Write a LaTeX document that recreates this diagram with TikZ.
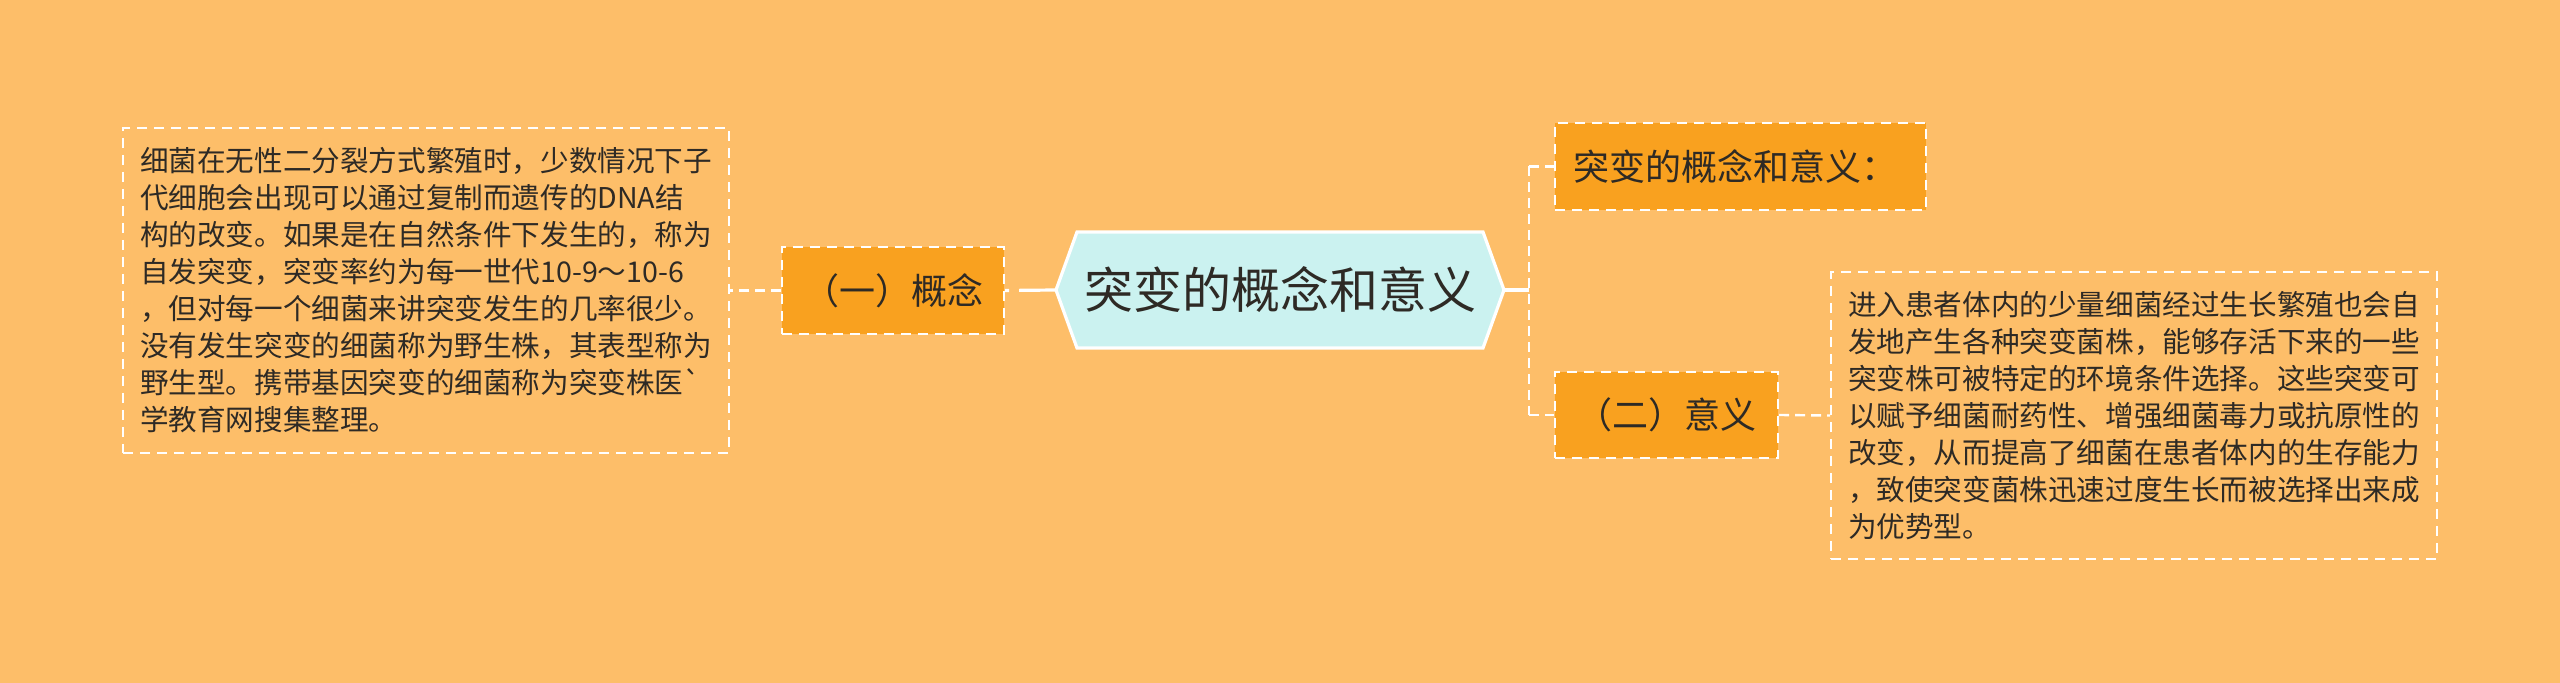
\documentclass[tikz,border=0pt]{standalone}
\usepackage{fontspec}
\newfontfamily\cjk{Noto Sans CJK SC}
\definecolor{bgc}{HTML}{FDBE69}
\definecolor{boxc}{HTML}{F9A11F}
\definecolor{hexc}{HTML}{CBF2F0}
\definecolor{txtc}{HTML}{2E2A25}
\tikzset{
  dashline/.style={draw=white, line width=1.2pt, dash pattern=on 5pt off 3pt},
  textbox/.style={draw=white, line width=1pt, dash pattern=on 5pt off 3.5pt, fill=none,
    font=\cjk\fontsize{14.3pt}{18.5pt}\selectfont, text=txtc, align=left,
    minimum width=303pt, inner sep=0pt, anchor=center},
  topic/.style={draw=white, line width=1pt, dash pattern=on 5pt off 3.5pt, fill=boxc,
    font=\cjk\fontsize{18pt}{22pt}\selectfont, text=txtc, inner sep=0pt, anchor=center}
}
\begin{document}
\begin{tikzpicture}[x=0.5pt,y=-0.5pt]
\path[fill=bgc,use as bounding box] (0,0) rectangle (2560,683);
% root
\node[font=\cjk\fontsize{24.5pt}{28pt}\selectfont, text=txtc, minimum width=224pt, minimum height=58pt, inner sep=0pt] (root) at (1280,290) {突变的概念和意义};
\coordinate (h1) at (1056,290);
\coordinate (h2) at (1077,232);
\coordinate (h3) at (1483,232);
\coordinate (h4) at (1504,290);
\coordinate (h5) at (1483,348);
\coordinate (h6) at (1077,348);
\fill[hexc] (h1) -- (h2) -- (h3) -- (h4) -- (h5) -- (h6) -- cycle;
\draw[white, line width=1.6pt, line join=miter] (h1) -- (h2) -- (h3) -- (h4) -- (h5) -- (h6) -- cycle;
\node[font=\cjk\fontsize{24.5pt}{28pt}\selectfont, text=txtc, inner sep=0pt] at (root.center) {突变的概念和意义};
% left
\node[topic, minimum width=111pt, minimum height=43.5pt] (c1) at (893,290.5) {（一）概念};
\node[textbox, minimum height=162.5pt] (t1) at (426,290.5) {%
细菌在无性二分裂方式繁殖时，少数情况下子\\
代细胞会出现可以通过复制而遗传的DNA结\\
构的改变。如果是在自然条件下发生的，称为\\
自发突变，突变率约为每一世代10-9～10-6\\
，但对每一个细菌来讲突变发生的几率很少。\\
没有发生突变的细菌称为野生株，其表型称为\\
野生型。携带基因突变的细菌称为突变株医`\\
学教育网搜集整理。};
% right
\node[topic, minimum width=185.5pt, minimum height=43.5pt, align=left, text width=167pt] (c2) at (1740.5,166.5) {突变的概念和意义：};
\node[topic, minimum width=111.5pt, minimum height=43pt] (c3) at (1666.5,415) {（二）意义};
\node[textbox, minimum height=143.5pt] (t3) at (2134,415.5) {%
进入患者体内的少量细菌经过生长繁殖也会自\\
发地产生各种突变菌株，能够存活下来的一些\\
突变株可被特定的环境条件选择。这些突变可\\
以赋予细菌耐药性、增强细菌毒力或抗原性的\\
改变，从而提高了细菌在患者体内的生存能力\\
，致使突变菌株迅速过度生长而被选择出来成\\
为优势型。};
% connectors
\draw[white, line width=1.6pt, dash pattern=on 18.5pt off 5pt] (h1) -- (c1.east);
\draw[dashline] (c1.west) -- (t1.east);
\coordinate (sp) at (1529,290);
\coordinate (sp1) at (1529,166.5);
\coordinate (sp3) at (1529,415);
\draw[white, line width=1.6pt] (h4) -- (sp);
\draw[dashline] (sp1) -- (sp3);
\draw[dashline] (sp1) -- (c2.west);
\draw[dashline] (sp3) -- (c3.west);
\draw[dashline] (c3.east) -- (t3.west);
\end{tikzpicture}
\end{document}
